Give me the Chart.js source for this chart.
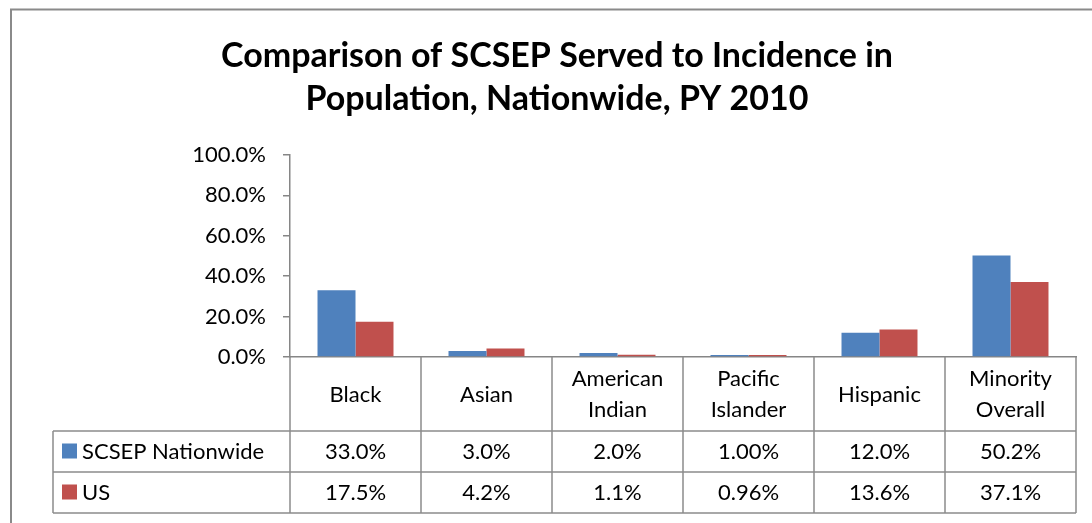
<!DOCTYPE html>
<html>
<head>
<meta charset="utf-8">
<script src="https://cdn.jsdelivr.net/npm/chart.js@4"></script>
<style>
  html, body { margin: 0; padding: 0; background: #fff; }
  #wrap { width: 1092px; height: 523px; }
</style>
</head>
<body>
<div id="wrap"><canvas id="chart" width="1092" height="523"></canvas></div>
<script>
// data
const categories = [['Black'], ['Asian'], ['American', 'Indian'], ['Pacific', 'Islander'], ['Hispanic'], ['Minority', 'Overall']];
const scsepNationwide = [33.0, 3.0, 2.0, 1.00, 12.0, 50.2];
const usPopulation = [17.5, 4.2, 1.1, 0.96, 13.6, 37.1];
const tableDecimals = [1, 1, 1, 2, 1, 1];
const seriesNames = ['SCSEP Nationwide', 'US'];
const yTicks = [0, 20, 40, 60, 80, 100];

const FONT = 'Lato, "Open Sans", sans-serif';
const LINE = '#8c8c8c';
const colors = ['#4F81BD', '#C0504D'];
const TEXT_SIZE = 22;

// frame + data table under the plot
const tablePlugin = {
  id: 'dataTable',
  beforeDraw(chart) {
    const ctx = chart.ctx;
    ctx.save();
    ctx.strokeStyle = '#8a8a8a';
    ctx.lineWidth = 2;
    ctx.beginPath();
    ctx.moveTo(11, 523);
    ctx.lineTo(11, 9.5);
    ctx.lineTo(1092, 9.5);
    ctx.stroke();
    ctx.restore();
  },
  afterDraw(chart) {
    const ctx = chart.ctx;
    const x = chart.scales.x;
    const area = chart.chartArea;
    const n = categories.length;
    const colW = (area.right - area.left) / n;
    const rowH = 41;
    const catBottom = area.bottom + 74;
    const legendLeft = 53;
    const rows = [catBottom, catBottom + rowH, catBottom + 2 * rowH];

    ctx.save();
    ctx.strokeStyle = LINE;
    ctx.lineWidth = 1.5;
    ctx.beginPath();
    rows.forEach(y => {
      ctx.moveTo(legendLeft, y);
      ctx.lineTo(area.right, y);
    });
    ctx.moveTo(legendLeft, catBottom);
    ctx.lineTo(legendLeft, rows[2]);
    for (let i = 0; i <= n; i++) {
      const bx = area.left + i * colW;
      ctx.moveTo(bx, area.bottom);
      ctx.lineTo(bx, rows[2]);
    }
    ctx.stroke();

    ctx.font = TEXT_SIZE + 'px ' + FONT;
    ctx.fillStyle = '#000';
    ctx.textBaseline = 'middle';
    const series = [scsepNationwide, usPopulation];
    series.forEach((vals, s) => {
      const cy = rows[s] + rowH / 2;
      ctx.fillStyle = colors[s];
      ctx.fillRect(62, cy - 8, 15, 15);
      ctx.fillStyle = '#000';
      ctx.textAlign = 'left';
      ctx.fillText(seriesNames[s], 82, cy);
      ctx.textAlign = 'center';
      vals.forEach((v, i) => {
        ctx.fillText(v.toFixed(tableDecimals[i]) + '%', x.getPixelForValue(i), cy);
      });
    });
    ctx.restore();
  }
};

new Chart(document.getElementById('chart'), {
  type: 'bar',
  data: {
    labels: categories,
    datasets: [
      { label: seriesNames[0], data: scsepNationwide, backgroundColor: colors[0] },
      { label: seriesNames[1], data: usPopulation, backgroundColor: colors[1] }
    ]
  },
  options: {
    responsive: false,
    animation: false,
    layout: { padding: { left: 38, right: 16, top: 0, bottom: 0 } },
    datasets: { bar: { categoryPercentage: 0.58, barPercentage: 1.0 } },
    plugins: {
      legend: { display: false },
      tooltip: { enabled: false },
      title: {
        display: true,
        text: ['Comparison of SCSEP Served to Incidence in', 'Population, Nationwide, PY 2010'],
        color: '#000',
        font: { family: FONT, size: 34, weight: 'bold', lineHeight: 43 / 34 },
        padding: { top: 34.5, bottom: 34.5 }
      }
    },
    scales: {
      x: {
        grid: { display: false, drawTicks: false },
        border: { color: '#868686', width: 1.5 },
        ticks: {
          color: '#000',
          font: { family: FONT, size: TEXT_SIZE, lineHeight: 31 / TEXT_SIZE },
          padding: 22,
          crossAlign: 'center',
          maxRotation: 0,
          autoSkip: false
        },
        afterFit(scale) { scale.height = 166; }
      },
      y: {
        min: 0,
        max: 100,
        afterBuildTicks(scale) { scale.ticks = yTicks.map(v => ({ value: v })); },
        grid: { drawOnChartArea: false, tickLength: 7, color: '#868686', lineWidth: 1.5 },
        border: { color: '#868686', width: 1.5 },
        ticks: {
          color: '#000',
          font: { family: FONT, size: TEXT_SIZE },
          padding: 17,
          callback: v => v.toFixed(1) + '%'
        },
        afterFit(scale) { scale.width = 252; }
      }
    }
  },
  plugins: [tablePlugin]
});
</script>
</body>
</html>
